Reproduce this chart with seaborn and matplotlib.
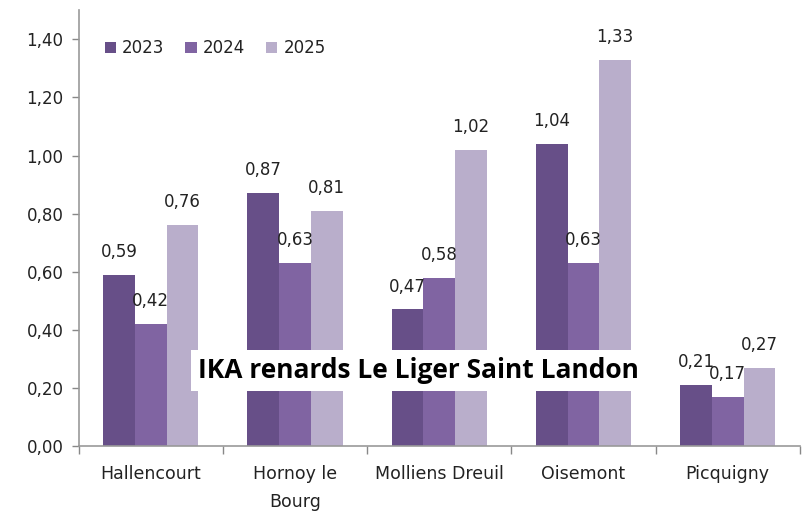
import pandas as pd
import seaborn as sns
import matplotlib.pyplot as plt
from matplotlib.ticker import FuncFormatter, FixedLocator

communes = ["Hallencourt", "Hornoy le\nBourg", "Molliens Dreuil", "Oisemont", "Picquigny"]
years = ["2023", "2024", "2025"]
ika_2023 = [0.59, 0.87, 0.47, 1.04, 0.21]
ika_2024 = [0.42, 0.63, 0.58, 0.63, 0.17]
ika_2025 = [0.76, 0.81, 1.02, 1.33, 0.27]
colors = ["#674f88", "#8064a2", "#b9aecb"]
title = "IKA renards Le Liger Saint Landon"

sns.set_style("white")
plt.rcParams['font.family'] = ['DejaVu Sans']

# long format for seaborn
rows = []
for year, vals in zip(years, [ika_2023, ika_2024, ika_2025]):
    for c, v in zip(communes, vals):
        rows.append({"commune": c, "annee": year, "ika": v})
df = pd.DataFrame(rows)

fig = plt.figure(figsize=(8.03, 5.15), dpi=100)
ax = fig.add_axes([0.098, 0.134, 0.898, 0.846])

sns.barplot(data=df, x="commune", y="ika", hue="annee", palette=colors,
            width=0.66, gap=0, saturation=1, ax=ax, errorbar=None, linewidth=0)

for cont in ax.containers:
    ax.bar_label(cont, labels=[f"{b.get_height():.2f}".replace('.', ',') for b in cont],
                 padding=10, fontsize=12, color="#222222")

ax.set_ylim(0, 1.5)
ax.set_xlim(-0.5, len(communes) - 0.5)
ax.set_yticks([0, 0.2, 0.4, 0.6, 0.8, 1.0, 1.2, 1.4])
ax.yaxis.set_major_formatter(FuncFormatter(lambda v, p: f"{v:.2f}".replace('.', ',')))
ax.set_xlabel("")
ax.set_ylabel("")

ax.tick_params(axis='y', which='major', length=5, width=1, color="#888888",
               labelsize=12, labelcolor="#222222", direction='out', left=True, pad=6)
ax.tick_params(axis='x', which='major', length=0, labelsize=12.5, labelcolor="#222222", pad=14)
for lbl in ax.get_xticklabels():
    lbl.set_linespacing(1.7)
    lbl.set_va("top")
ax.xaxis.set_minor_locator(FixedLocator([i - 0.5 for i in range(len(communes) + 1)]))
ax.tick_params(axis='x', which='minor', length=6, width=1, color="#888888", direction='out', bottom=True)

for s in ["top", "right"]:
    ax.spines[s].set_visible(False)
for s in ["left", "bottom"]:
    ax.spines[s].set_color("#999999")
    ax.spines[s].set_linewidth(1.2)

leg = ax.legend(loc="upper left", ncol=3, frameon=False, fontsize=12,
                bbox_to_anchor=(0.015, 0.968), handlelength=0.7, handleheight=0.7,
                handletextpad=0.35, columnspacing=1.25)
for t in leg.get_texts():
    t.set_color("#222222")

ax.text(0.471, 0.174, title, transform=ax.transAxes, ha="center", va="center",
        fontsize=19, fontweight="bold", color="black", family="Open Sans",
        bbox=dict(facecolor="white", edgecolor="none", pad=5))

plt.savefig("out.png", dpi=100)
